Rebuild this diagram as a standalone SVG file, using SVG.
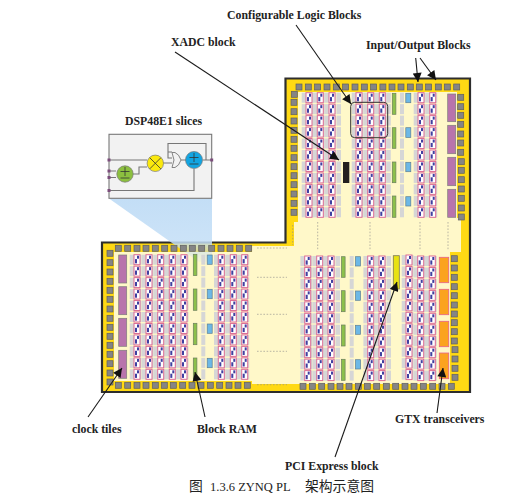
<svg xmlns="http://www.w3.org/2000/svg" width="529" height="499" viewBox="0 0 529 499">
<style>
.lb{font-family:"Liberation Serif","Noto Sans CJK SC",serif;font-weight:bold;font-size:11.800px;fill:#222}
.cap{font-family:"Liberation Serif","Noto Sans CJK SC",serif;font-size:12.500px;fill:#222}
.cj{font-size:13.800px}
.sq{fill:#858585;stroke:#5f5f5f;stroke-width:.7}
.gr{fill:#d6d6d6}
.tl{fill:#fff;stroke:#dc6a92;stroke-width:1}
.bk{fill:#3f3fa0}
.gn{fill:#8cc04b;stroke:#6a7f5c;stroke-width:.7}
.bl{fill:#6cb8e6;stroke:#5d7f95;stroke-width:.7}
.pu{fill:#b874ac;stroke:#7d7d7d;stroke-width:.7}
.or{fill:#fba31f;stroke:#e8628c;stroke-width:.8}
.dd{stroke:#8a8a8a;stroke-width:.6;stroke-dasharray:1.6 1.6;fill:none}
.ar{stroke:#1a1a1a;stroke-width:1.100;fill:none;marker-end:url(#ah)}
.w{stroke:#777;stroke-width:1.100;fill:none}
</style>
<defs>
<marker id="ah" viewBox="0 0 10 10" refX="10" refY="5" markerWidth="10" markerHeight="9" markerUnits="userSpaceOnUse" orient="auto"><path d="M0 0L10 5L0 10z" fill="#111"/></marker>
<linearGradient id="fade" x1="0" y1="0" x2="0" y2="1"><stop offset="0" stop-color="#c3def6"/><stop offset=".7" stop-color="#c3def6" stop-opacity=".85"/><stop offset="1" stop-color="#c3def6" stop-opacity=".15"/></linearGradient>
<g id="t"><rect class="gr" x="-7.300" y="-5" width="11.800" height="10"/><rect class="tl" x="-3" y="-5" width="6" height="10"/><rect class="bk" x="-2" y="-.6" width="2" height="4.200"/><rect class="bk" x="0" y="-4" width="2" height="3"/></g>
<g id="g1"><rect class="gr" x="-2" y="-5" width="4" height="10"/></g>
<g id="c"><use href="#t" y="0"/><use href="#t" y="11.460"/><use href="#t" y="22.920"/><use href="#t" y="34.380"/><use href="#t" y="45.840"/><use href="#t" y="57.300"/><use href="#t" y="68.760"/><use href="#t" y="80.220"/><use href="#t" y="91.680"/><use href="#t" y="103.140"/><use href="#t" y="114.600"/></g>
<g id="gc"><use href="#g1" y="0"/><use href="#g1" y="11.460"/><use href="#g1" y="22.920"/><use href="#g1" y="34.380"/><use href="#g1" y="45.840"/><use href="#g1" y="57.300"/><use href="#g1" y="68.760"/><use href="#g1" y="80.220"/><use href="#g1" y="91.680"/><use href="#g1" y="103.140"/><use href="#g1" y="114.600"/></g>
<rect id="s" class="sq" x="-3" y="-3" width="6" height="6"/>
</defs>
<rect width="529" height="499" fill="#fff"/>
<g id="fabric">
<path d="M285.500 78.500H470V392H102V242.500H285.500Z" fill="#ffd914" stroke="#2d2d2d" stroke-width="2.200"/>
<path d="M298 92H457V218H461V252H450V384H252V381H114V252H252V246H294V222H298Z" fill="#fff8c9"/>
<g class="dd"><path d="M292.700 225V245M317.700 222V250M370 222V250M420 222V250M448 222V250"/>
<path d="M257 248H287M257 277.300H287M257 314.300H287M257 351.300H287M257 384.700H287"/></g>
</g>
<g id="dsp-beam"><path d="M109 198.500H212V262H199Z" fill="url(#fade)"/></g>
<g id="clb-upper">
<use href="#c" x="309" y="97.700"/><use href="#c" x="320.300" y="97.700"/><use href="#c" x="332" y="97.700"/><use href="#gc" x="339" y="97.700"/>
<use href="#c" x="359" y="97.700"/><use href="#c" x="370.700" y="97.700"/><use href="#c" x="382.300" y="97.700"/><use href="#gc" x="388.800" y="97.700"/><use href="#gc" x="402" y="97.700"/>
<use href="#c" x="421" y="97.700"/><use href="#c" x="432.700" y="97.700"/>
</g>
<g id="clb-lower-left">
<use href="#c" x="137" y="259.700"/><use href="#c" x="149" y="259.700"/><use href="#c" x="160.700" y="259.700"/><use href="#c" x="172.300" y="259.700"/><use href="#c" x="184" y="259.700"/><use href="#gc" x="203.300" y="259.700"/>
<use href="#c" x="221.300" y="259.700"/><use href="#c" x="233.300" y="259.700"/><use href="#c" x="244.700" y="259.700"/>
</g>
<g id="clb-lower-right">
<use href="#c" x="307.700" y="261"/><use href="#c" x="319.700" y="261"/><use href="#c" x="331" y="261"/><use href="#gc" x="338" y="261"/><use href="#gc" x="351.700" y="261"/>
<use href="#c" x="370.700" y="261"/><use href="#c" x="382" y="261"/><use href="#gc" x="389" y="261"/>
<use href="#c" x="409" y="260"/><use href="#c" x="420.700" y="261"/><use href="#c" x="432.300" y="261"/>
</g>
<g id="block-ram">
<rect class="gn" x="392.300" y="93.300" width="3.600" height="21"/><rect class="gn" x="392.300" y="127.700" width="3.600" height="20.600"/><rect class="gn" x="392.300" y="162" width="3.600" height="20.700"/><rect class="gn" x="392.300" y="196" width="3.600" height="21.300"/>
<rect class="gn" x="193.300" y="254.300" width="3.600" height="21.300"/><rect class="gn" x="193.300" y="289" width="3.600" height="21.300"/><rect class="gn" x="193.300" y="323.300" width="3.600" height="21.400"/><rect class="gn" x="193.300" y="358" width="3.600" height="21"/>
<rect class="gn" x="341.500" y="256.700" width="3.600" height="20.600"/><rect class="gn" x="341.500" y="290.700" width="3.600" height="21"/><rect class="gn" x="341.500" y="325" width="3.600" height="21"/><rect class="gn" x="341.500" y="359.300" width="3.600" height="21"/>
</g>
<g id="dsp-slices">
<rect class="bl" x="405.800" y="93.300" width="5" height="9.400"/><rect class="bl" x="405.800" y="127.700" width="5" height="9.700"/><rect class="bl" x="405.800" y="162.300" width="5" height="9.400"/><rect class="bl" x="405.800" y="196.700" width="5" height="9.300"/>
<rect class="bl" x="207.200" y="255" width="5" height="9.300"/><rect class="bl" x="207.200" y="289.300" width="5" height="9.400"/><rect class="bl" x="207.200" y="324" width="5" height="9.300"/><rect class="bl" x="207.200" y="358.300" width="5" height="9.400"/>
<rect class="bl" x="355.500" y="256.700" width="5" height="9.300"/><rect class="bl" x="355.500" y="291" width="5" height="9.300"/><rect class="bl" x="355.500" y="325.300" width="5" height="9"/><rect class="bl" x="355.500" y="359.700" width="5" height="9.300"/>
</g>
<g id="clock-tiles">
<rect class="pu" x="447.700" y="94" width="8" height="27.700"/><rect class="pu" x="447.700" y="125.300" width="8" height="28.400"/><rect class="pu" x="447.700" y="157.300" width="8" height="28.400"/><rect class="pu" x="447.700" y="189.300" width="8" height="28"/>
<rect class="pu" x="118.700" y="255" width="8" height="28"/><rect class="pu" x="118.700" y="286.700" width="8" height="28"/><rect class="pu" x="118.700" y="318.300" width="8" height="28"/><rect class="pu" x="118.700" y="350.300" width="8" height="28"/>
</g>
<g id="gtx">
<rect class="or" x="439.300" y="257.300" width="9.400" height="25.400"/><rect class="or" x="439.300" y="289.300" width="9.400" height="25.400"/><rect class="or" x="439.300" y="321.300" width="9.400" height="25.400"/><rect class="or" x="439.300" y="353" width="9.400" height="25.700"/>
</g>
<g id="pcie"><rect x="393.300" y="255.700" width="6" height="33.300" fill="#e8e213" stroke="#7b7b55" stroke-width=".8"/></g>
<g id="xadc"><rect x="343" y="162" width="6.300" height="21" fill="#231f20"/></g>
<g id="clb-outline"><rect x="350.700" y="102.300" width="37" height="35.400" rx="4" fill="none" stroke="#333" stroke-width="1"/></g>
<g id="io-blocks">
<use href="#s" x="299" y="87"/><use href="#s" x="308.300" y="87"/><use href="#s" x="317.600" y="87"/><use href="#s" x="327" y="87"/><use href="#s" x="336.300" y="87"/><use href="#s" x="345.600" y="87"/><use href="#s" x="355" y="87"/><use href="#s" x="364.300" y="87"/><use href="#s" x="373.600" y="87"/><use href="#s" x="382.900" y="87"/><use href="#s" x="392" y="87"/><use href="#s" x="401" y="87"/><use href="#s" x="410.300" y="87"/><use href="#s" x="419.300" y="87"/><use href="#s" x="428.600" y="87"/><use href="#s" x="438.300" y="87"/><use href="#s" x="447.300" y="87"/><use href="#s" x="456.700" y="87"/>
<use href="#s" x="294.300" y="94.300"/><use href="#s" x="294" y="102.300"/><use href="#s" x="294" y="111.700"/><use href="#s" x="294" y="121"/><use href="#s" x="294" y="130.300"/><use href="#s" x="294" y="139.300"/><use href="#s" x="294" y="148.300"/><use href="#s" x="294" y="157.700"/><use href="#s" x="294" y="166.700"/><use href="#s" x="294" y="175.700"/><use href="#s" x="294" y="184.700"/><use href="#s" x="294" y="194"/><use href="#s" x="294" y="203.300"/><use href="#s" x="294" y="212.300"/>
<use href="#s" x="460.700" y="97.300"/><use href="#s" x="460.700" y="106.700"/><use href="#s" x="460.700" y="115.300"/><use href="#s" x="460.700" y="124.300"/><use href="#s" x="460.700" y="134"/><use href="#s" x="460.700" y="143"/><use href="#s" x="460.700" y="152.300"/><use href="#s" x="461.300" y="161.700"/><use href="#s" x="461.300" y="170.300"/><use href="#s" x="461.300" y="179.700"/><use href="#s" x="461.300" y="189"/><use href="#s" x="461.300" y="198.300"/><use href="#s" x="461.300" y="208"/><use href="#s" x="461.300" y="217"/>
<use href="#s" x="118.300" y="248.300"/><use href="#s" x="127.700" y="248.300"/><use href="#s" x="137" y="248.300"/><use href="#s" x="146" y="248.300"/><use href="#s" x="155.300" y="248.300"/><use href="#s" x="164.700" y="248.300"/><use href="#s" x="174" y="248.300"/><use href="#s" x="183.300" y="248.300"/><use href="#s" x="192.300" y="248.300"/><use href="#s" x="201.700" y="248.300"/><use href="#s" x="211.700" y="248.300"/><use href="#s" x="221" y="248.300"/><use href="#s" x="230" y="248.300"/><use href="#s" x="239.300" y="248.300"/><use href="#s" x="248.700" y="248.300"/>
<use href="#s" x="118.300" y="385.300"/><use href="#s" x="127.700" y="385.300"/><use href="#s" x="137" y="385.300"/><use href="#s" x="146" y="385.300"/><use href="#s" x="155.300" y="385.300"/><use href="#s" x="164.300" y="385.300"/><use href="#s" x="173.300" y="385.300"/><use href="#s" x="182.700" y="385.300"/><use href="#s" x="192" y="385.300"/><use href="#s" x="201" y="385.300"/><use href="#s" x="210.300" y="385.300"/><use href="#s" x="219.700" y="385.300"/><use href="#s" x="229" y="385.300"/><use href="#s" x="238" y="385.300"/><use href="#s" x="247.300" y="385.300"/>
<use href="#s" x="110" y="253.300"/><use href="#s" x="110" y="262.700"/><use href="#s" x="110" y="272"/><use href="#s" x="110" y="281.300"/><use href="#s" x="110" y="290.300"/><use href="#s" x="110" y="299.300"/><use href="#s" x="110" y="309"/><use href="#s" x="110" y="318.300"/><use href="#s" x="110" y="327.300"/><use href="#s" x="110" y="336.300"/><use href="#s" x="110" y="345.300"/><use href="#s" x="110" y="354.300"/><use href="#s" x="110" y="363.700"/><use href="#s" x="110" y="373"/><use href="#s" x="110" y="382"/>
<use href="#s" x="303" y="386.300"/><use href="#s" x="312.300" y="386.300"/><use href="#s" x="321.700" y="386.300"/><use href="#s" x="331" y="386.300"/><use href="#s" x="340" y="386.300"/><use href="#s" x="349" y="386.300"/><use href="#s" x="358.300" y="386.300"/><use href="#s" x="367.300" y="386.300"/><use href="#s" x="376.700" y="386.300"/><use href="#s" x="386.300" y="386.300"/><use href="#s" x="395.700" y="386.300"/><use href="#s" x="405" y="386.300"/><use href="#s" x="414" y="386.300"/><use href="#s" x="423.300" y="386.300"/><use href="#s" x="432.700" y="386.300"/><use href="#s" x="442" y="386.300"/><use href="#s" x="451.300" y="386.300"/>
<use href="#s" x="454.300" y="258.700"/><use href="#s" x="454.300" y="268"/><use href="#s" x="454.300" y="277.300"/><use href="#s" x="454.300" y="286.700"/><use href="#s" x="454.300" y="295.700"/><use href="#s" x="454.300" y="305"/><use href="#s" x="454.300" y="314"/><use href="#s" x="454.300" y="322.700"/><use href="#s" x="454.300" y="331.700"/><use href="#s" x="454.300" y="341"/><use href="#s" x="455" y="349.700"/><use href="#s" x="455" y="359"/><use href="#s" x="455" y="368.300"/><use href="#s" x="455" y="377.300"/>
</g>
<g id="dsp-inset">
<rect x="109" y="134.300" width="102.700" height="64" fill="#f2f2f2" stroke="#777" stroke-width="1.100"/>
<path class="w" d="M109 160H147M109 171H116M109 177.500H116M109 190.500H194V169M133 174H139V167H147M163 163H172M181 160H186M203 160H211M172 158H168V143.500H206V160M168 152H172"/>
<path d="M172 152.500H175Q179 154 181 160Q179 166 175 167.500H172L174 160Z" fill="#f2f2f2" stroke="#777" stroke-width=".9"/>
<circle cx="125" cy="174" r="8.200" fill="#8cc03f" stroke="#777" stroke-width=".7"/>
<circle cx="155.300" cy="163.300" r="8.200" fill="#fbe90e" stroke="#777" stroke-width=".7"/>
<circle cx="194" cy="160" r="8.500" fill="#12a5e2" stroke="#777" stroke-width=".7"/>
<path d="M120.500 171.500H129.500M125 167V176M120.500 178H129.500M149.800 157.800L160.800 168.800M160.800 157.800L149.800 168.800M189.500 157.500H198.500M194 153V162M189.500 164H198.500" stroke="#333" stroke-width=".8" fill="none"/>
<g fill="#7b4d7b"><rect x="107.500" y="158.500" width="3" height="3"/><rect x="107.500" y="169.500" width="3" height="3"/><rect x="107.500" y="176" width="3" height="3"/><rect x="107.500" y="189" width="3" height="3"/><rect x="210.200" y="158.500" width="3" height="3"/></g>
</g>
<g id="connectors">
<path class="ar" d="M296 25L351 104"/>
<path class="ar" d="M175 52L339 160"/>
<path class="ar" d="M415.700 58L418 82"/>
<path class="ar" d="M420 58L436 80"/>
<path class="ar" d="M88 417L122 368"/>
<path class="ar" d="M205 417L195 372"/>
<path class="ar" d="M335 457L397 282"/>
<path class="ar" d="M437 413L443 368"/>
</g>
<g id="labels">
<text class="lb" x="227" y="19">Configurable Logic Blocks</text>
<text class="lb" x="171" y="46">XADC block</text>
<text class="lb" x="366" y="49">Input/Output Blocks</text>
<text class="lb" x="125" y="125">DSP48E1 slices</text>
<text class="lb" x="72" y="433">clock tiles</text>
<text class="lb" x="197" y="433">Block RAM</text>
<text class="lb" x="395" y="423">GTX transceivers</text>
<text class="lb" x="285" y="470">PCI Express block</text>
<text class="cap" y="491"><tspan class="cj" x="189">图</tspan><tspan x="210">1.3.6 ZYNQ PL</tspan><tspan class="cj" x="305">架构示意图</tspan></text>
</g>
</svg>
